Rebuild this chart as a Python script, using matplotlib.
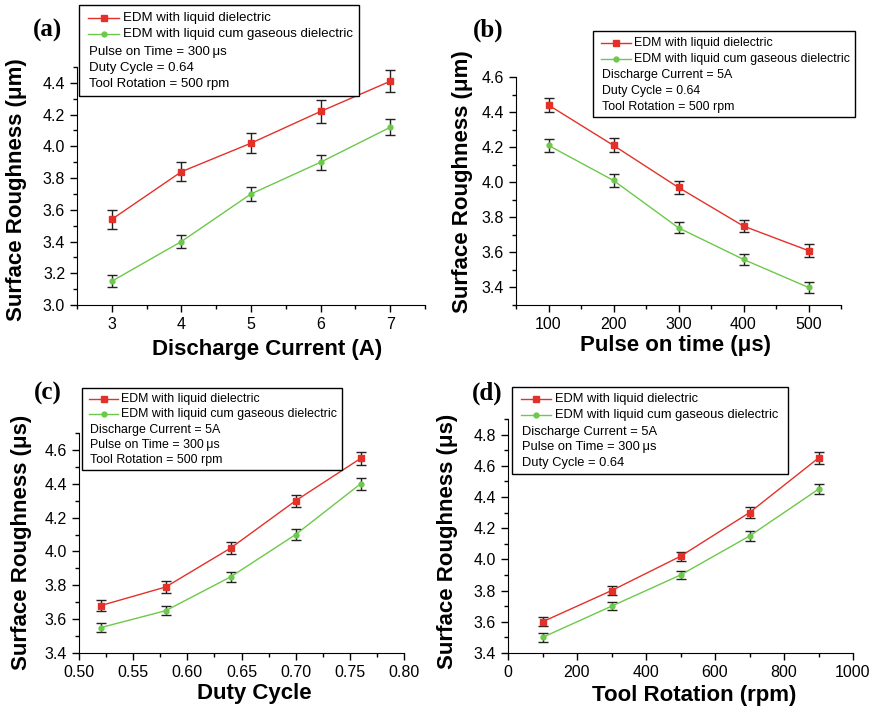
import numpy as np
import matplotlib.pyplot as plt
from matplotlib.lines import Line2D
from matplotlib.patches import Rectangle

W, H = 877, 710

# (a) discharge current
cur = [3, 4, 5, 6, 7]
cur_liq = [3.54, 3.84, 4.02, 4.22, 4.41]
cur_liq_err = [0.06, 0.06, 0.065, 0.07, 0.07]
cur_gas = [3.15, 3.40, 3.70, 3.90, 4.12]
cur_gas_err = [0.037, 0.04, 0.045, 0.047, 0.05]

# (b) pulse on time
ton = [100, 200, 300, 400, 500]
ton_liq = [4.44, 4.21, 3.97, 3.75, 3.61]
ton_liq_err = [0.042, 0.04, 0.036, 0.035, 0.035]
ton_gas = [4.21, 4.01, 3.74, 3.56, 3.40]
ton_gas_err = [0.036, 0.036, 0.032, 0.031, 0.03]

# (c) duty cycle
duty = [0.52, 0.58, 0.64, 0.70, 0.76]
duty_liq = [3.68, 3.79, 4.02, 4.30, 4.55]
duty_liq_err = [0.031, 0.033, 0.035, 0.036, 0.038]
duty_gas = [3.55, 3.65, 3.85, 4.10, 4.40]
duty_gas_err = [0.028, 0.027, 0.03, 0.031, 0.034]

# (d) tool rotation
rpm = [100, 300, 500, 700, 900]
rpm_liq = [3.60, 3.80, 4.02, 4.30, 4.65]
rpm_liq_err = [0.029, 0.03, 0.03, 0.034, 0.036]
rpm_gas = [3.50, 3.70, 3.90, 4.15, 4.45]
rpm_gas_err = [0.028, 0.027, 0.028, 0.031, 0.031]

series_names = ["EDM with liquid dielectric", "EDM with liquid cum gaseous dielectric"]
RED = "#e3312a"
GREEN = "#6cc94a"

plt.rcParams['font.family'] = ['Liberation Sans', 'DejaVu Sans']

fig = plt.figure(figsize=(W / 100, H / 100), dpi=100)


def fx(x):
    return x / W


def fy(y):
    return 1 - y / H


def make_axes(l, t, r, b):
    ax = fig.add_axes([fx(l), fy(b), (r - l) / W, (b - t) / H])
    for s in ["top", "right"]:
        ax.spines[s].set_visible(False)
    ax.tick_params(which="major", direction="out", length=5, width=1, labelsize=11.5)
    ax.tick_params(which="minor", direction="out", length=3, width=1)
    return ax


def plot_pair(ax, x, y1, e1, y2, e2):
    ax.errorbar(x, y1, yerr=e1, color=RED, lw=1, marker="s", ms=4,
                ecolor="#222222", elinewidth=1, capsize=3.5, capthick=1, zorder=3)
    ax.errorbar(x, y2, yerr=e2, color=GREEN, lw=1, marker="o", ms=3.5,
                ecolor="#222222", elinewidth=1, capsize=3.5, capthick=1, zorder=3)


def draw_box(box, rows, hx0, hx1, tx, cx, conds, fs):
    x0, y0, x1, y1 = box
    fig.patches.append(Rectangle((fx(x0), fy(y1)), (x1 - x0) / W, (y1 - y0) / H,
                                 transform=fig.transFigure, fill=True, fc="white",
                                 ec="black", lw=1, zorder=10))
    for i, (col, mk, ms) in enumerate([(RED, "s", 4), (GREEN, "o", 3.5)]):
        y = fy(rows[i])
        fig.lines.append(Line2D([fx(hx0), fx(hx1)], [y, y], color=col, lw=1,
                                transform=fig.transFigure, zorder=11))
        fig.lines.append(Line2D([fx((hx0 + hx1) / 2)], [y], color=col, marker=mk,
                                ms=ms, transform=fig.transFigure, zorder=11))
        fig.text(fx(tx), y, series_names[i], fontsize=fs, va="center", zorder=12)
    for j, c in enumerate(conds):
        fig.text(fx(cx), fy(rows[2 + j]), c, fontsize=fs, va="center", zorder=12)


def panel_label(x, y, s):
    fig.text(fx(x), fy(y), s, fontsize=18, fontweight="bold", family="Liberation Serif",
             ha="center", va="center")


def labels(ax, xl, xpos, yl, ypos):
    ax.set_xlabel(xl, fontsize=16, fontweight="bold")
    ax.xaxis.set_label_coords(fx(xpos[0]), fy(xpos[1]), transform=fig.transFigure)
    ax.xaxis.label.set_va("center")
    ax.set_ylabel(yl, fontsize=16, fontweight="bold")
    ax.yaxis.set_label_coords(fx(ypos[0]), fy(ypos[1]), transform=fig.transFigure)
    ax.yaxis.label.set_va("center")


# (a)
ax = make_axes(77, 67, 425, 305)
plot_pair(ax, cur, cur_liq, cur_liq_err, cur_gas, cur_gas_err)
ax.set_xlim(2.5, 7.5)
ax.set_ylim(3.0, 4.5)
ax.set_xticks(cur)
ax.set_xticks(np.arange(2.5, 7.6, 0.5), minor=True)
ax.set_yticks(np.arange(3.0, 4.41, 0.2))
ax.set_yticks(np.arange(3.0, 4.51, 0.1), minor=True)
ax.yaxis.set_major_formatter(plt.FormatStrFormatter("%.1f"))
labels(ax, "Discharge Current (A)", (267, 350), "Surface Roughness (\u03bcm)", (17, 190))
panel_label(48, 30, "(a)")
draw_box((79, 5, 359, 96), [18, 34, 52, 68, 84], 88, 119, 123, 89,
         ["Pulse on Time = 300\u2009\u03bcs", "Duty Cycle = 0.64", "Tool Rotation = 500 rpm"], 9.5)

# (b)
ax = make_axes(516, 77, 841, 305)
plot_pair(ax, ton, ton_liq, ton_liq_err, ton_gas, ton_gas_err)
ax.set_xlim(50, 550)
ax.set_ylim(3.3, 4.6)
ax.set_xticks(ton)
ax.set_xticks(np.arange(50, 551, 50), minor=True)
ax.set_yticks(np.arange(3.4, 4.61, 0.2))
ax.set_yticks(np.arange(3.3, 4.61, 0.1), minor=True)
ax.yaxis.set_major_formatter(plt.FormatStrFormatter("%.1f"))
labels(ax, "Pulse on time (\u03bcs)", (675, 345), "Surface Roughness (\u03bcm)", (462, 182))
panel_label(488, 30, "(b)")
draw_box((593, 31, 855, 117), [43, 59, 75, 91, 107], 601, 631, 634, 602,
         ["Discharge Current = 5A", "Duty Cycle = 0.64", "Tool Rotation = 500 rpm"], 8.9)

# (c)
ax = make_axes(79, 433, 404, 653)
plot_pair(ax, duty, duty_liq, duty_liq_err, duty_gas, duty_gas_err)
ax.set_xlim(0.5, 0.8)
ax.set_ylim(3.4, 4.7)
ax.set_xticks(np.arange(0.5, 0.801, 0.05))
ax.set_xticks(np.arange(0.5, 0.801, 0.025), minor=True)
ax.set_yticks(np.arange(3.4, 4.61, 0.2))
ax.set_yticks(np.arange(3.4, 4.71, 0.1), minor=True)
ax.xaxis.set_major_formatter(plt.FormatStrFormatter("%.2f"))
ax.yaxis.set_major_formatter(plt.FormatStrFormatter("%.1f"))
labels(ax, "Duty Cycle", (254, 693), "Surface Roughness (\u03bcs)", (22, 542))
panel_label(48, 393, "(c)")
draw_box((82, 388, 342, 470), [399, 414, 430, 445, 460], 89, 118, 121, 90,
         ["Discharge Current = 5A", "Pulse on Time = 300\u2009\u03bcs", "Tool Rotation = 500 rpm"], 8.9)

# (d)
ax = make_axes(508, 419, 853, 653)
plot_pair(ax, rpm, rpm_liq, rpm_liq_err, rpm_gas, rpm_gas_err)
ax.set_xlim(0, 1000)
ax.set_ylim(3.4, 4.9)
ax.set_xticks(np.arange(0, 1001, 200))
ax.set_xticks(np.arange(0, 1001, 100), minor=True)
ax.set_yticks(np.arange(3.4, 4.81, 0.2))
ax.set_yticks(np.arange(3.4, 4.91, 0.1), minor=True)
ax.yaxis.set_major_formatter(plt.FormatStrFormatter("%.1f"))
labels(ax, "Tool Rotation (rpm)", (694, 696), "Surface Roughness (\u03bcs)", (448, 541))
panel_label(487, 393, "(d)")
draw_box((512, 387, 788, 474), [399, 415, 432, 447, 463], 521, 551, 555, 522,
         ["Discharge Current = 5A", "Pulse on Time = 300\u2009\u03bcs", "Duty Cycle = 0.64"], 9.3)

fig.savefig("out.png", dpi=100)
